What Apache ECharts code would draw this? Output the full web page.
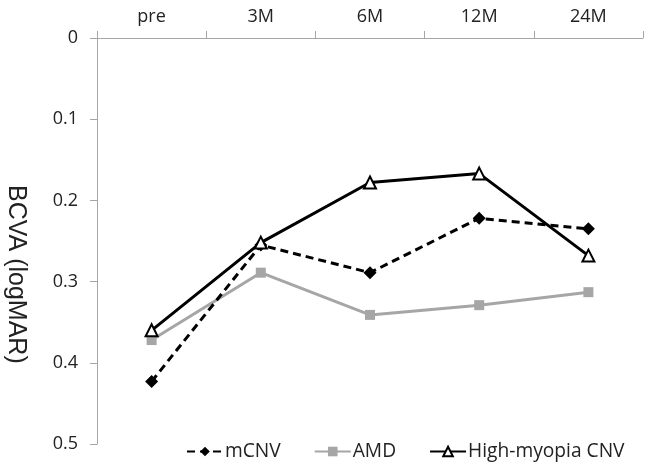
<!DOCTYPE html>
<html>
<head>
<meta charset="utf-8">
<script src="https://cdn.jsdelivr.net/npm/echarts@6/dist/echarts.min.js"></script>
<style>
  html, body { margin: 0; padding: 0; background: #fff; }
  #chart { width: 645px; height: 470px; }
</style>
</head>
<body>
<div id="chart"></div>
<script>
const categories = ['pre', '3M', '6M', '12M', '24M'];
const mCNV = [0.423, 0.255, 0.289, 0.222, 0.235];
const amd = [0.372, 0.289, 0.341, 0.329, 0.313];
const highMyopiaCNV = [0.360, 0.252, 0.178, 0.167, 0.268];

const FONT = 'Open Sans';
const AXIS_GREY = '#a6a6a6';

const chart = echarts.init(document.getElementById('chart'));

chart.setOption({
  animation: false,
  textStyle: { fontFamily: FONT },
  grid: { left: 97, right: 2, top: 38, bottom: 26 },
  legend: {
    top: 442,
    left: 186,
    padding: 0,
    itemWidth: 36,
    itemHeight: 12,
    itemGap: 33,
    textStyle: { fontFamily: FONT, fontSize: 19.2, color: '#222', padding: [0, 0, 0, -3] },
    data: ['mCNV', 'AMD', 'High-myopia CNV'],
  },
  graphic: [
    {
      type: 'text',
      left: 3,
      top: 185,
      rotation: -Math.PI / 2,
      style: {
        text: 'BCVA (logMAR)',
        font: '25px "Liberation Sans"',
        fill: '#222',
      },
    },
  ],
  xAxis: {
    type: 'category',
    position: 'top',
    data: categories,
    boundaryGap: true,
    axisLine: { lineStyle: { color: AXIS_GREY, width: 1 } },
    axisTick: { show: true, length: 7, alignWithLabel: false, lineStyle: { color: AXIS_GREY } },
    axisLabel: { fontSize: 18, color: '#222', margin: 12 },
  },
  yAxis: {
    type: 'value',
    inverse: true,
    min: 0,
    max: 0.5,
    interval: 0.1,
    axisLine: { show: true, lineStyle: { color: AXIS_GREY, width: 1 } },
    axisTick: { show: true, length: 7, lineStyle: { color: AXIS_GREY } },
    splitLine: { show: false },
    axisLabel: { fontSize: 18, color: '#222', margin: 19 },
  },
  series: [
    {
      name: 'mCNV',
      type: 'line',
      data: mCNV,
      symbol: 'diamond',
      symbolSize: 13,
      itemStyle: { color: '#000' },
      lineStyle: { color: '#000', width: 3, type: [8, 5] },
      z: 3,
    },
    {
      name: 'AMD',
      type: 'line',
      data: amd,
      symbol: 'rect',
      symbolSize: 10,
      itemStyle: { color: '#a6a6a6' },
      lineStyle: { color: '#a6a6a6', width: 3 },
      z: 2,
    },
    {
      name: 'High-myopia CNV',
      type: 'line',
      data: highMyopiaCNV,
      symbol: 'triangle',
      symbolSize: 12,
      itemStyle: { color: '#fff', borderColor: '#000', borderWidth: 2 },
      lineStyle: { color: '#000', width: 3 },
      z: 4,
    },
  ],
});
</script>
</body>
</html>
